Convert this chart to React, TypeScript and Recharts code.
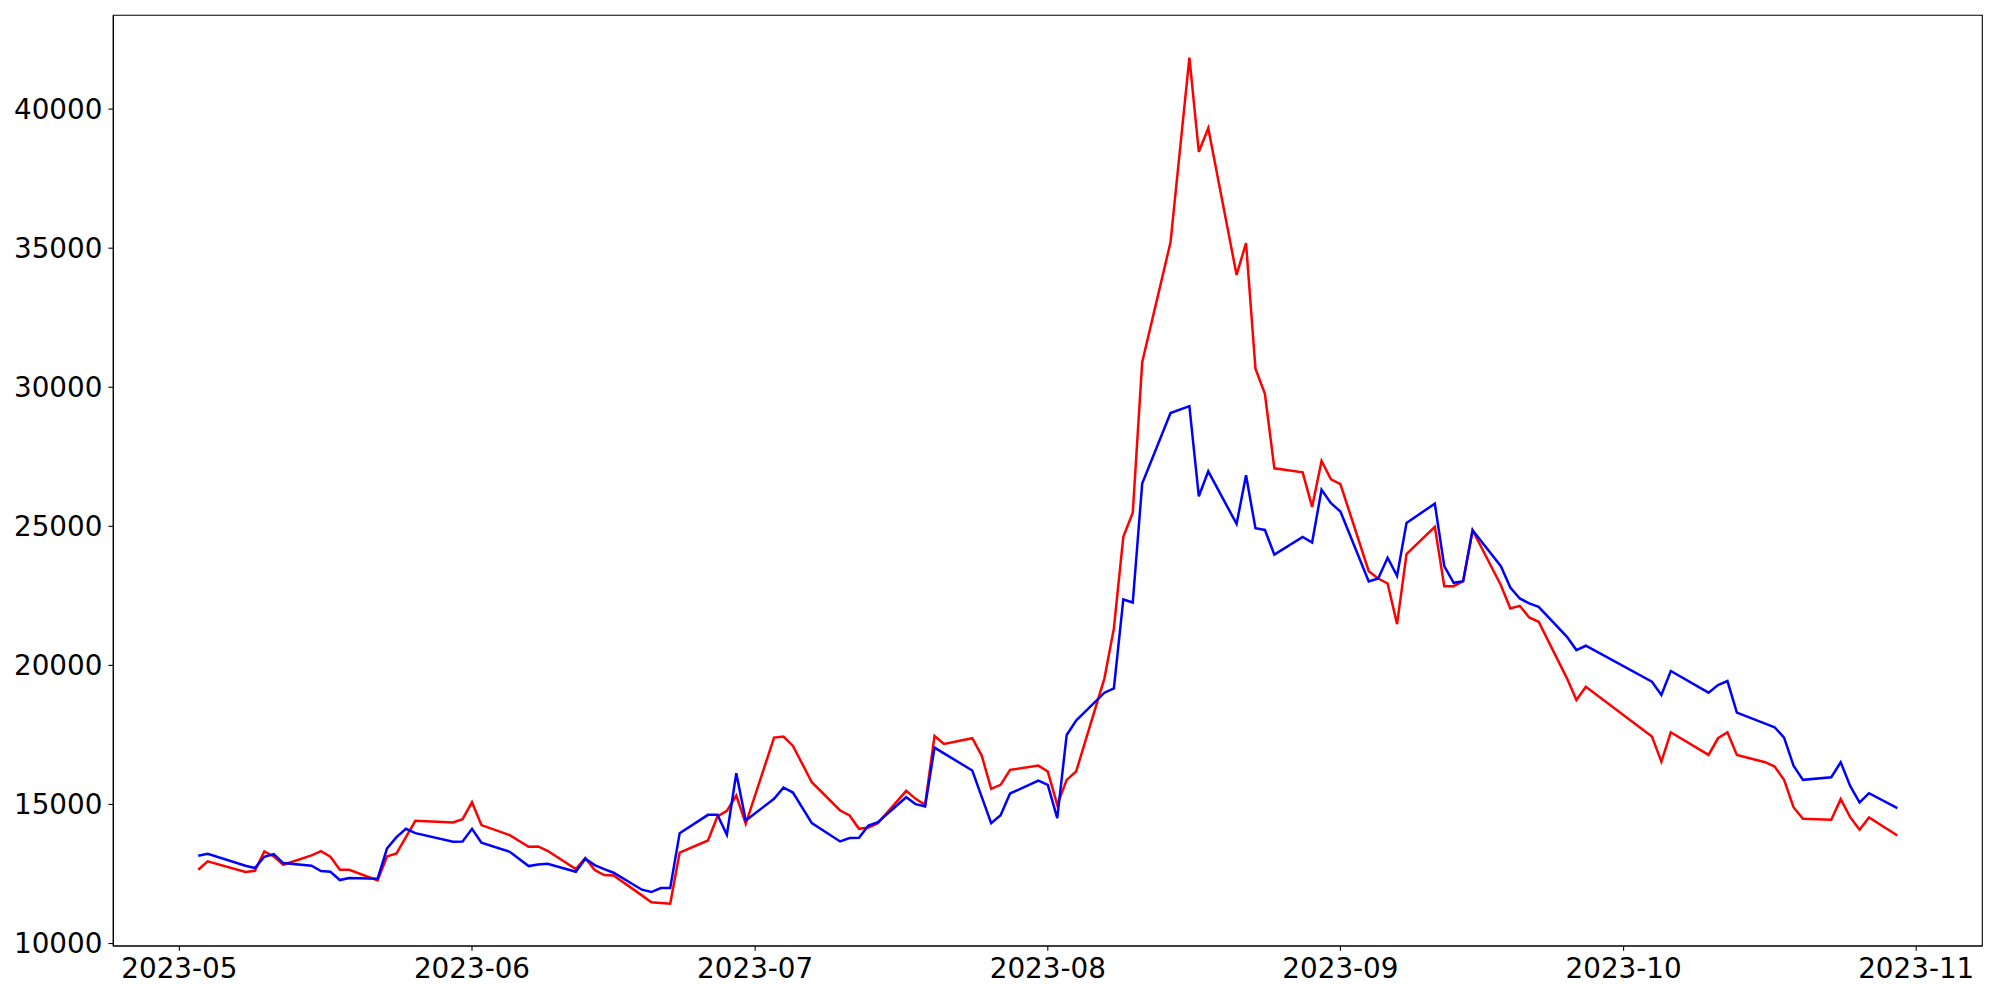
import React from 'react';
import { LineChart, Line, XAxis, YAxis, ReferenceArea } from 'recharts';

const dates: string[] = [
  '2023-05-03', '2023-05-04', '2023-05-08', '2023-05-09', '2023-05-10', '2023-05-11', '2023-05-12',
  '2023-05-15', '2023-05-16', '2023-05-17', '2023-05-18', '2023-05-19',
  '2023-05-22', '2023-05-23', '2023-05-24', '2023-05-25', '2023-05-26',
  '2023-05-30', '2023-05-31', '2023-06-01', '2023-06-02',
  '2023-06-05', '2023-06-07', '2023-06-08', '2023-06-09',
  '2023-06-12', '2023-06-13', '2023-06-14', '2023-06-15', '2023-06-16',
  '2023-06-19', '2023-06-20', '2023-06-21', '2023-06-22', '2023-06-23',
  '2023-06-26', '2023-06-27', '2023-06-28', '2023-06-29', '2023-06-30',
  '2023-07-03', '2023-07-04', '2023-07-05', '2023-07-07',
  '2023-07-10', '2023-07-11', '2023-07-12', '2023-07-13', '2023-07-14',
  '2023-07-17', '2023-07-18', '2023-07-19', '2023-07-20', '2023-07-21',
  '2023-07-24', '2023-07-25', '2023-07-26', '2023-07-27', '2023-07-28',
  '2023-07-31', '2023-08-01', '2023-08-02', '2023-08-03', '2023-08-04',
  '2023-08-07', '2023-08-08', '2023-08-09', '2023-08-10', '2023-08-11',
  '2023-08-14', '2023-08-16', '2023-08-17', '2023-08-18',
  '2023-08-21', '2023-08-22', '2023-08-23', '2023-08-24', '2023-08-25',
  '2023-08-28', '2023-08-29', '2023-08-30', '2023-08-31', '2023-09-01',
  '2023-09-04', '2023-09-05', '2023-09-06', '2023-09-07', '2023-09-08',
  '2023-09-11', '2023-09-12', '2023-09-13', '2023-09-14', '2023-09-15',
  '2023-09-18', '2023-09-19', '2023-09-20', '2023-09-21', '2023-09-22',
  '2023-09-25', '2023-09-26', '2023-09-27',
  '2023-10-04', '2023-10-05', '2023-10-06',
  '2023-10-10', '2023-10-11', '2023-10-12', '2023-10-13',
  '2023-10-16', '2023-10-17', '2023-10-18', '2023-10-19', '2023-10-20',
  '2023-10-23', '2023-10-24', '2023-10-25', '2023-10-26', '2023-10-27',
  '2023-10-30',
];

const redValues: number[] = [
  12653, 12952, 12569, 12617, 13311, 13132, 12832,
  13168, 13320, 13120, 12653, 12653,
  12270, 13132, 13239, 13826, 14412,
  14352, 14472, 15082, 14257,
  13897, 13479, 13491, 13335,
  12677, 13072, 12640, 12460, 12450,
  11731, 11480, 11456, 11432, 13270,
  13706, 14568, 14771, 15322, 14304,
  17404, 17440, 17105, 15800,
  14783, 14603, 14125, 14173, 14328,
  15489, 15202, 14986, 17464, 17176,
  17380, 16757, 15561, 15705, 16243,
  16398, 16183, 14986, 15884, 16183,
  19534, 21329, 24620, 25487, 30902,
  35210, 41852, 38465, 39315,
  34037, 35186, 30663, 29765, 27085,
  26940, 25697, 27347, 26690, 26520,
  23387, 23124, 22944, 21484, 23997,
  24979, 22848, 22848, 23028, 24859,
  22884, 22046, 22142, 21723, 21568,
  19534, 18756, 19235,
  17440, 16542, 17595,
  16781, 17380, 17595, 16781,
  16518, 16362, 15884, 14902, 14484,
  14448, 15190, 14543, 14089, 14531,
  13885,
];

const blueValues: number[] = [
  13156, 13227, 12797, 12713, 13120, 13215, 12892,
  12797, 12605, 12581, 12282, 12354,
  12330, 13419, 13826, 14125, 13969,
  13658, 13670, 14125, 13622,
  13299, 12785, 12844, 12868,
  12581, 13050, 12820, 12677, 12545,
  11935, 11851, 11995, 11995, 13969,
  14627, 14627, 13910, 16123, 14424,
  15202, 15609, 15429, 14328,
  13670, 13790, 13802, 14245, 14364,
  15261, 15010, 14926, 17045, 16838,
  16219, 15274, 14328, 14615, 15393,
  15860, 15704, 14507, 17499, 18014,
  19019, 19175, 22370, 22262, 26534,
  29071, 29322, 26079, 26976,
  25086, 26833, 24930, 24870, 23985,
  24620, 24416, 26318, 25830, 25530,
  23015, 23124, 23870, 23219, 25122,
  25816, 23570, 22968, 23028, 24859,
  23566, 22800, 22406, 22226, 22106,
  21029, 20551, 20706,
  19414, 18935, 19797,
  19019, 19294, 19438, 18301,
  17906, 17775, 17404, 16398, 15884,
  15980, 16518, 15668, 15070, 15405,
  14867,
];

const monthTicks: string[] = [
  '2023-05-01', '2023-06-01', '2023-07-01', '2023-08-01', '2023-09-01', '2023-10-01', '2023-11-01',
];

const yTicks: number[] = [10000, 15000, 20000, 25000, 30000, 35000, 40000];

const toTs = (s: string) => {
  const [y, m, d] = s.split('-').map(Number);
  return Date.UTC(y, m - 1, d);
};

const data = dates.map((d, i) => ({ t: toTs(d), red: redValues[i], blue: blueValues[i] }));

const tMin = toTs(dates[0]);
const tMax = toTs(dates[dates.length - 1]);
const tPad = (tMax - tMin) * 0.05;
const xDomain: [number, number] = [tMin - tPad, tMax + tPad];

const allVals = [...redValues, ...blueValues];
const vMin = Math.min(...allVals);
const vMax = Math.max(...allVals);
const vPad = (vMax - vMin) * 0.05;
const yDomain: [number, number] = [vMin - vPad, vMax + vPad];

const fmtMonth = (t: number) => {
  const d = new Date(t);
  return `${d.getUTCFullYear()}-${String(d.getUTCMonth() + 1).padStart(2, '0')}`;
};

const FONT = 'DejaVu Sans';
const tickStyle = { fontFamily: FONT, fontSize: 27.8, fill: '#000000' };
const axisLineStyle = { stroke: '#000000', strokeWidth: 1.1 };

export default function App() {
  return (
    <div style={{ position: 'absolute', left: 0, top: 0, width: 2000, height: 1000, background: '#ffffff' }}>
      <LineChart
        width={2000}
        height={1000}
        data={data}
        margin={{ top: 15.3, right: 17.7, bottom: 0, left: 0 }}
      >
        <XAxis
          dataKey="t"
          type="number"
          scale="linear"
          domain={xDomain}
          ticks={monthTicks.map(toTs)}
          tickFormatter={fmtMonth}
          allowDataOverflow
          height={54}
          tick={tickStyle}
          tickSize={4.86}
          tickMargin={7.9}
          axisLine={axisLineStyle}
          tickLine={axisLineStyle}
          interval={0}
        />
        <YAxis
          type="number"
          domain={yDomain}
          ticks={yTicks}
          allowDataOverflow
          width={113.3}
          tick={tickStyle}
          tickSize={4.86}
          tickMargin={6}
          axisLine={axisLineStyle}
          tickLine={axisLineStyle}
          interval={0}
        />
        <ReferenceArea
          x1={xDomain[0]}
          x2={xDomain[1]}
          y1={yDomain[0]}
          y2={yDomain[1]}
          fill="none"
          fillOpacity={0}
          stroke="#000000"
          strokeWidth={1.1}
          ifOverflow="visible"
        />
        <Line
          type="linear"
          dataKey="red"
          stroke="#ff0000"
          strokeWidth={2.5}
          dot={false}
          activeDot={false}
          isAnimationActive={false}
        />
        <Line
          type="linear"
          dataKey="blue"
          stroke="#0000ff"
          strokeWidth={2.5}
          dot={false}
          activeDot={false}
          isAnimationActive={false}
        />
      </LineChart>
    </div>
  );
}
